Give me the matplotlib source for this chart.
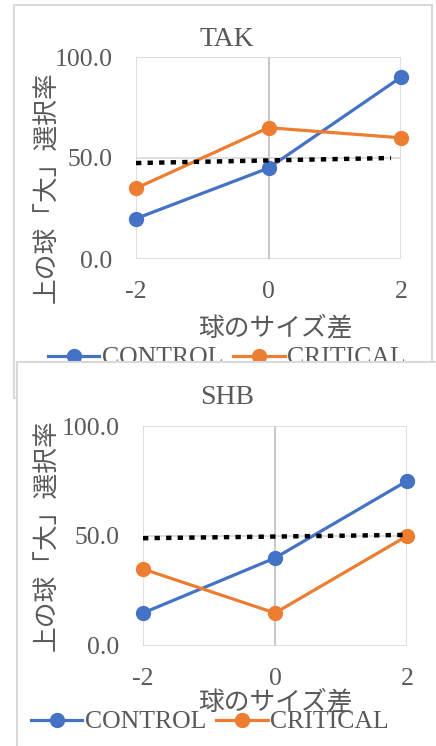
import matplotlib
matplotlib.use("Agg")
import matplotlib.pyplot as plt
from matplotlib.patches import Rectangle

plt.rcParams['font.family'] = ['Liberation Serif', 'Noto Sans CJK JP']
plt.rcParams['axes.unicode_minus'] = False

# data
size_diff = [-2, 0, 2]
x_ticks = ['-2', '0', '2']
y_ticks = [0, 50, 100]
y_tick_labels = ['0.0', '50.0', '100.0']

tak_control = [20, 45, 90]
tak_critical = [35, 65, 60]
tak_chance_x = [-2, 1.85]
tak_chance_y = [47.5, 50]

shb_control = [15, 40, 75]
shb_critical = [35, 15, 50]
shb_chance_x = [-2, 2]
shb_chance_y = [49, 50.5]

BLUE = '#4472C4'
ORANGE = '#ED7D31'
GREY_TXT = '#595959'
GRID = '#D9D9D9'

W, H = 436, 746
fig = plt.figure(figsize=(W / 100, H / 100), dpi=100)


def fx(x):
    return x / W


def fy(y):
    return 1 - y / H


def add_panel(left, top, right, bottom, zorder):
    ax = fig.add_axes([fx(left), fy(bottom), (right - left) / W, (bottom - top) / H])
    ax.set_zorder(zorder)
    return ax


def draw_panel(ax, title, control, critical, cx, cy, title_pos, xlab_pos, ylab_pos, leg_pos):
    ax.plot(size_diff, control, color=BLUE, lw=2.3, marker='o', ms=10,
            label='CONTROL', zorder=3, clip_on=False)
    ax.plot(size_diff, critical, color=ORANGE, lw=2.3, marker='o', ms=10,
            label='CRITICAL', zorder=3, clip_on=False)
    ax.plot(cx, cy, color='black', lw=3.2, linestyle=(0, (1.2, 1.4)),
            zorder=4, clip_on=False)

    ax.set_xlim(-2, 2)
    ax.set_ylim(0, 100)
    ax.set_xticks(size_diff)
    ax.set_xticklabels(x_ticks)
    ax.set_yticks(y_ticks)
    ax.set_yticklabels(y_tick_labels)
    ax.tick_params(length=0, labelsize=18.5, labelcolor=GREY_TXT)
    ax.tick_params(axis='y', pad=17)
    ax.tick_params(axis='x', pad=16)
    for s in ax.spines.values():
        s.set_visible(False)
    for v in y_ticks:
        ax.axhline(v, color=GRID, lw=1.2, zorder=1)
    ax.axvline(-2, color=GRID, lw=1.2, zorder=1)
    ax.axvline(2, color=GRID, lw=1.2, zorder=1)
    ax.axvline(0, color='#BFBFBF', lw=1.2, zorder=1)

    ax.text(fx(title_pos[0]), fy(title_pos[1]), title, transform=fig.transFigure,
            ha='center', va='center', fontsize=20, color=GREY_TXT)
    ax.text(fx(xlab_pos[0]), fy(xlab_pos[1]), '球のサイズ差', transform=fig.transFigure,
            ha='center', va='center', fontsize=18.5, color=GREY_TXT)
    ax.text(fx(ylab_pos[0]), fy(ylab_pos[1]), '上の球「大」選択率', transform=fig.transFigure,
            ha='center', va='center', fontsize=18.5, color=GREY_TXT, rotation=90)
    ax.legend(loc='center', bbox_to_anchor=(fx(leg_pos[0]), fy(leg_pos[1])),
              bbox_transform=fig.transFigure, ncol=2, frameon=False,
              fontsize=18.5, labelcolor=GREY_TXT, handlelength=2.0,
              handletextpad=0.1, columnspacing=0.4, borderpad=0, borderaxespad=0)


# panel 1 frame
fig.add_artist(Rectangle((fx(14), fy(398)), (432 - 14) / W, (398 - 5) / H,
                         transform=fig.transFigure, facecolor='white',
                         edgecolor=GRID, lw=1.5, zorder=-1))
ax1 = add_panel(136, 57, 401, 259, 0)
draw_panel(ax1, 'TAK', tak_control, tak_critical, tak_chance_x, tak_chance_y,
           (227, 40), (275, 328), (47, 187), (227, 358))

# panel 2 frame covers the bottom of panel 1
fig.add_artist(Rectangle((fx(16.5), fy(760)), (460 - 16.5) / W, (760 - 362) / H,
                         transform=fig.transFigure, facecolor='white',
                         edgecolor=GRID, lw=1.5, zorder=1))
ax2 = add_panel(143, 426, 407, 646, 2)
draw_panel(ax2, 'SHB', shb_control, shb_critical, shb_chance_x, shb_chance_y,
           (227, 397), (275, 702), (47, 535), (210, 722))

fig.savefig('out.png', dpi=100)
